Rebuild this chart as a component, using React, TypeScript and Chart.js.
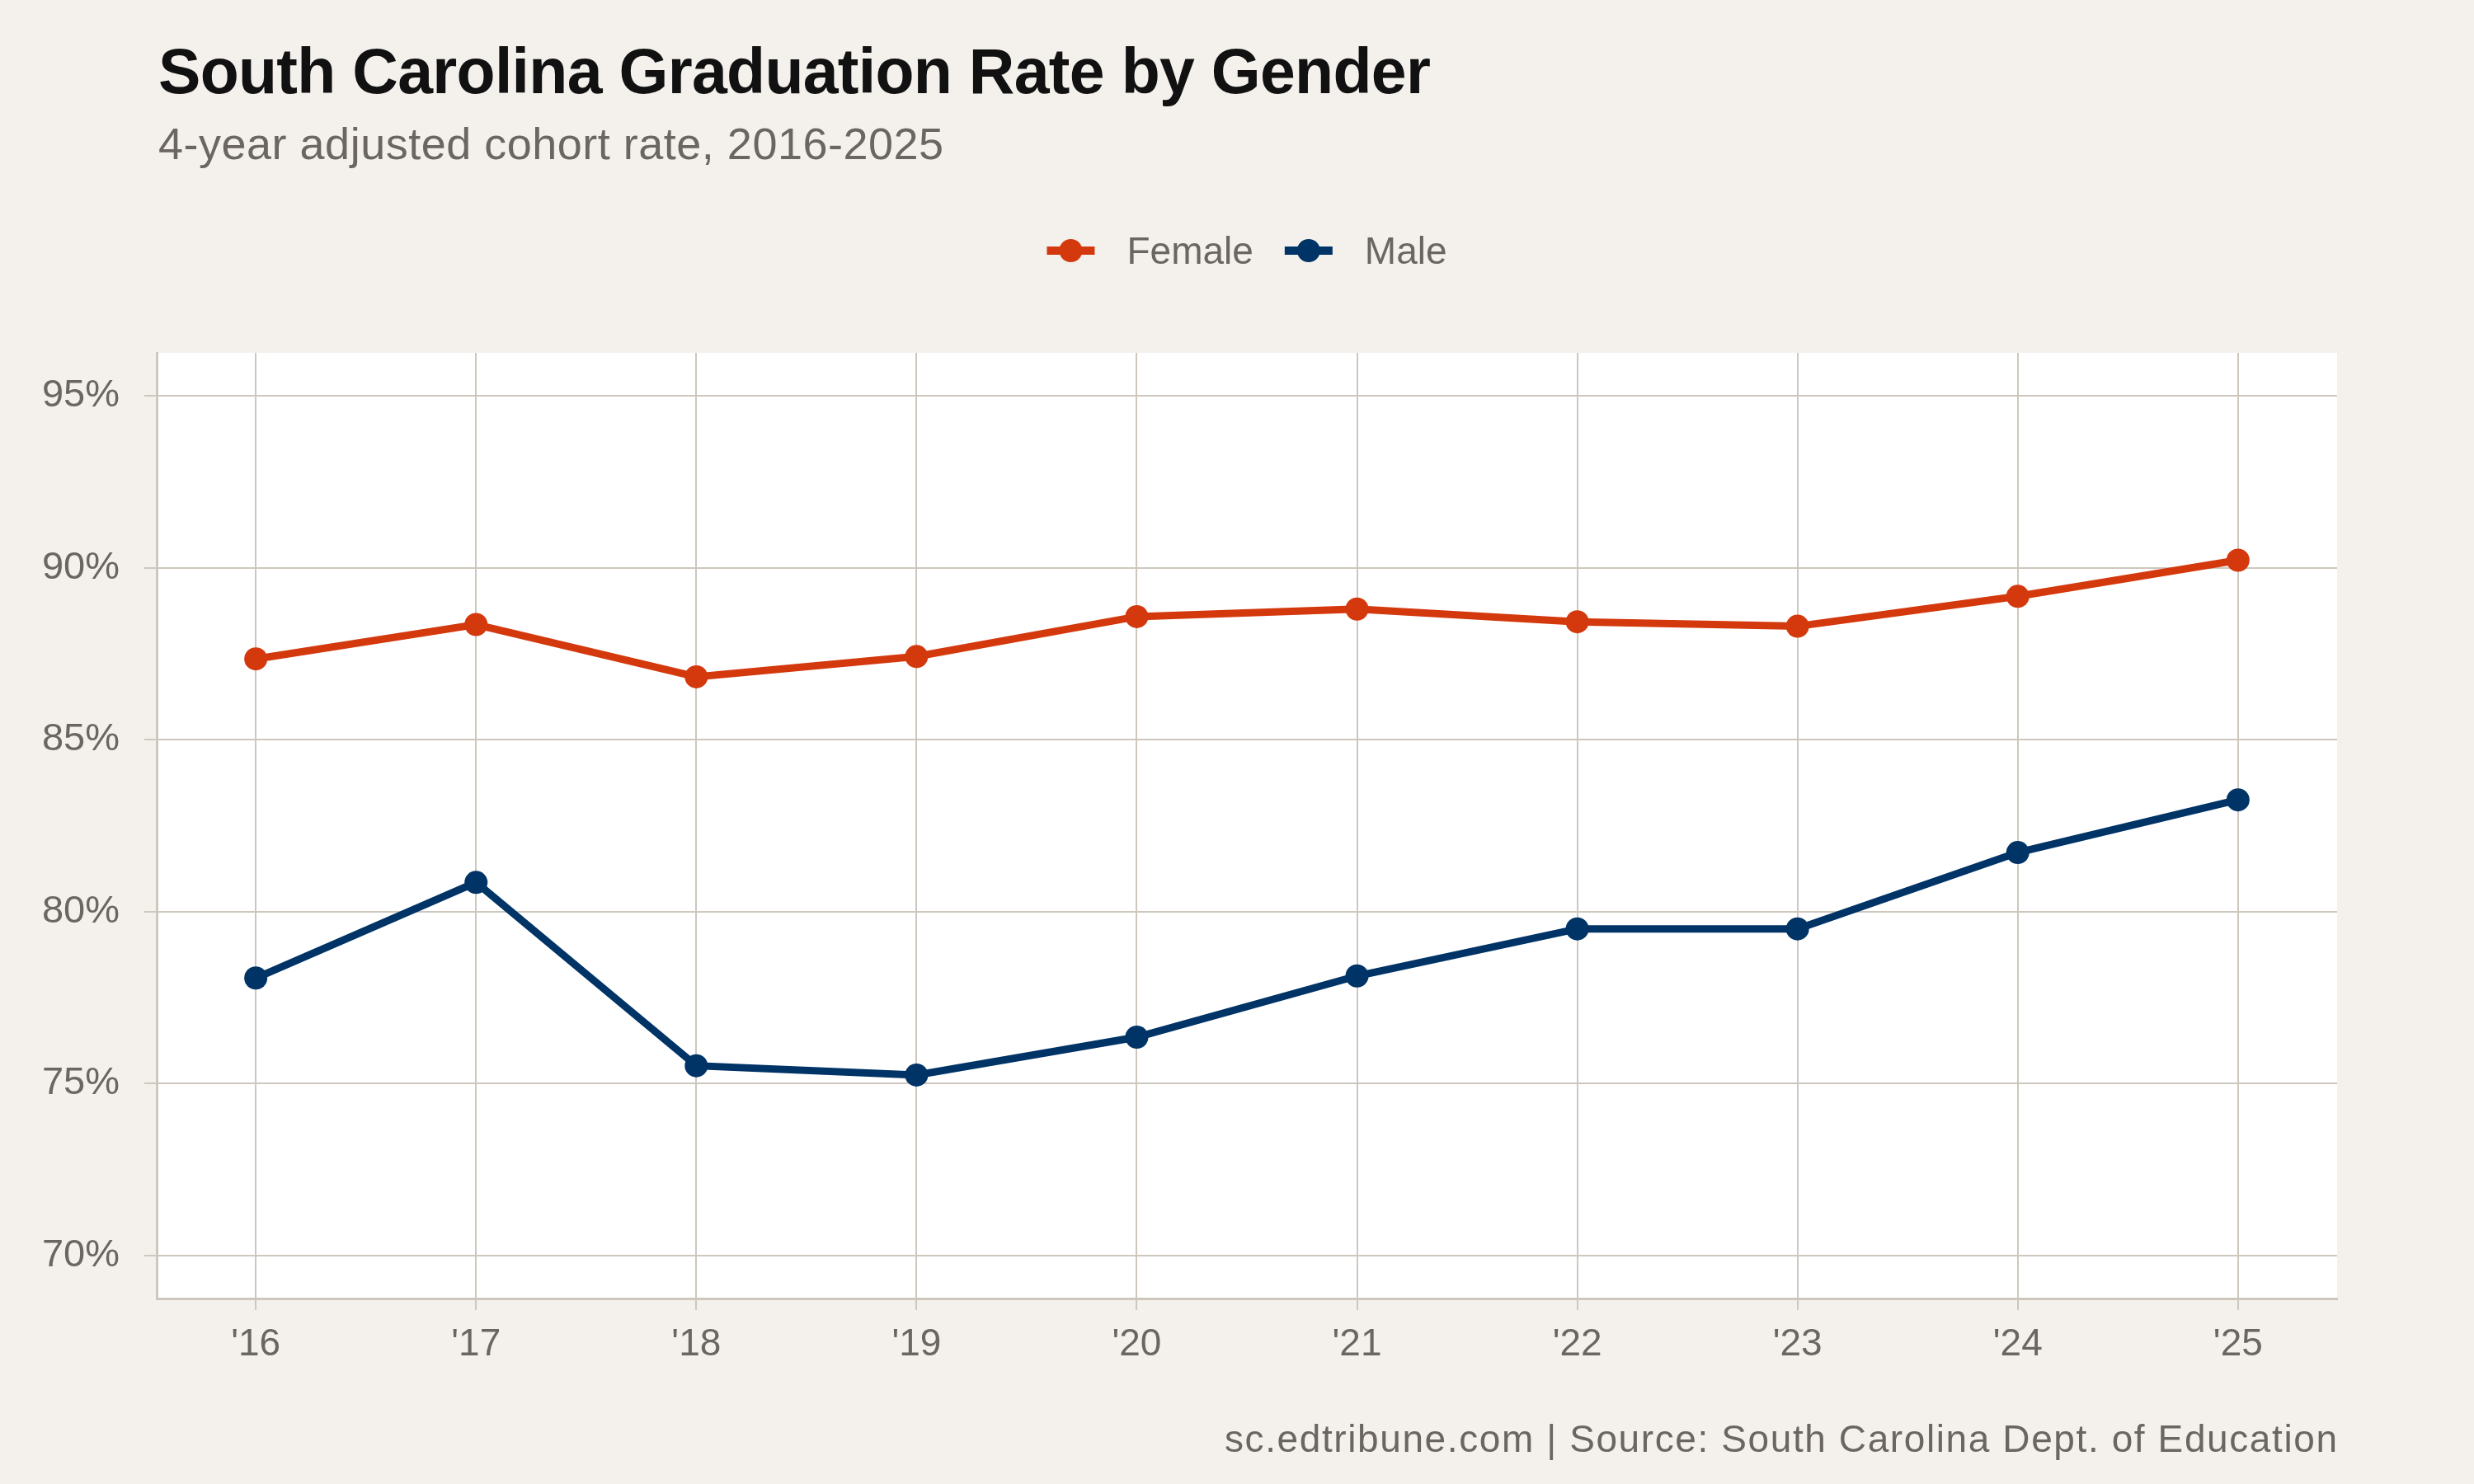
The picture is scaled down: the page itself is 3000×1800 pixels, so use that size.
import React, { useEffect, useRef } from "react";
import { Chart, registerables } from "chart.js";

Chart.register(...registerables);

// Graduation rates (%) by school year
const YEARS = [2016, 2017, 2018, 2019, 2020, 2021, 2022, 2023, 2024, 2025];
const FEMALE = [87.35, 88.35, 86.83, 87.42, 88.58, 88.8, 88.43, 88.3, 89.17, 90.22];
const MALE = [78.07, 80.85, 75.52, 75.25, 76.35, 78.13, 79.5, 79.5, 81.72, 83.25];
const Y_TICKS = [70, 75, 80, 85, 90, 95];
const SERIES_NAMES = ["Female", "Male"];
const SERIES_COLORS = ["#D4390E", "#003366"];

const TITLE = "South Carolina Graduation Rate by Gender";
const SUBTITLE = "4-year adjusted cohort rate, 2016-2025";
const CAPTION = "sc.edtribune.com | Source: South Carolina Dept. of Education";

const FONT = "'Liberation Sans', Arial, Helvetica, sans-serif";
const BG = "#F4F1EC";
const GRID = "#CDC7BE";
const MUTED = "#6B6661";

const W = 3000;
const H = 1800;

const decorPlugin = {
  id: "decor",
  beforeDraw(chart: any) {
    const { ctx, chartArea } = chart;
    ctx.save();
    ctx.fillStyle = BG;
    ctx.fillRect(0, 0, chart.width, chart.height);
    ctx.fillStyle = "#FFFFFF";
    ctx.fillRect(chartArea.left, chartArea.top, chartArea.right - chartArea.left, chartArea.bottom - chartArea.top);
    ctx.restore();
  },
  afterDraw(chart: any) {
    const { ctx, chartArea } = chart;
    ctx.save();
    ctx.textBaseline = "alphabetic";

    // Title and subtitle
    ctx.textAlign = "left";
    ctx.fillStyle = "#111111";
    ctx.font = `bold 77px ${FONT}`;
    ctx.letterSpacing = "-0.7px";
    ctx.fillText(TITLE, 192, 113);
    ctx.fillStyle = MUTED;
    ctx.font = `54px ${FONT}`;
    ctx.letterSpacing = "0.5px";
    ctx.fillText(SUBTITLE, 192, 193);

    // Caption
    ctx.textAlign = "right";
    ctx.font = `46px ${FONT}`;
    ctx.letterSpacing = "1.6px";
    ctx.fillText(CAPTION, chartArea.right + 1.6, 1761);
    ctx.letterSpacing = "0px";

    // Legend: line + dot swatch followed by the series name
    ctx.font = `46px ${FONT}`;
    const swatch = 58;
    const gapText = 39;
    const gapItem = 38;
    const items = chart.data.datasets.map((d: any) => ({
      label: d.label,
      color: d.borderColor,
      w: ctx.measureText(d.label).width,
    }));
    const total = items.reduce((s: number, it: any) => s + swatch + gapText + it.w, 0) + gapItem * (items.length - 1);
    let x = (chartArea.left + chartArea.right) / 2 - total / 2;
    const cy = 304;
    ctx.textAlign = "left";
    items.forEach((it: any) => {
      ctx.strokeStyle = it.color;
      ctx.lineWidth = 10;
      ctx.beginPath();
      ctx.moveTo(x, cy);
      ctx.lineTo(x + swatch, cy);
      ctx.stroke();
      ctx.fillStyle = it.color;
      ctx.beginPath();
      ctx.arc(x + swatch / 2, cy, 14, 0, Math.PI * 2);
      ctx.fill();
      ctx.fillStyle = MUTED;
      ctx.fillText(it.label, x + swatch + gapText, cy + 16);
      x += swatch + gapText + it.w + gapItem;
    });
    ctx.restore();
  },
};

export default function App() {
  const canvasRef = useRef<HTMLCanvasElement | null>(null);

  useEffect(() => {
    const canvas = canvasRef.current;
    if (!canvas) return;
    const seriesValues = [FEMALE, MALE];
    const chart = new Chart(canvas, {
      type: "line",
      data: {
        datasets: SERIES_NAMES.map((name, i) => ({
          label: name,
          data: YEARS.map((yr, j) => ({ x: yr, y: seriesValues[i][j] })),
          borderColor: SERIES_COLORS[i],
          backgroundColor: SERIES_COLORS[i],
          borderWidth: 9,
          pointRadius: 14,
          pointHoverRadius: 14,
          pointBorderWidth: 0,
          pointBackgroundColor: SERIES_COLORS[i],
          tension: 0,
          fill: false,
        })),
      },
      options: {
        responsive: false,
        animation: false,
        devicePixelRatio: 1,
        layout: { padding: { top: 428, right: 166, bottom: 125, left: 0 } },
        plugins: {
          legend: { display: false },
          title: { display: false },
          tooltip: { enabled: false },
        },
        scales: {
          x: {
            type: "linear",
            min: 2015.55,
            max: 2025.45,
            afterBuildTicks: (s: any) => {
              s.ticks = YEARS.map((v) => ({ value: v }));
            },
            afterFit: (s: any) => {
              s.height = 100;
            },
            ticks: {
              callback: (v: any) => "'" + String(v).slice(2),
              font: { size: 46, family: FONT },
              color: MUTED,
              padding: 15,
              autoSkip: false,
              maxRotation: 0,
            },
            grid: { color: GRID, lineWidth: 2, tickLength: 14, drawTicks: true },
            border: { display: true, color: GRID, width: 3 },
          },
          y: {
            type: "linear",
            min: 68.75,
            max: 96.25,
            afterBuildTicks: (s: any) => {
              s.ticks = Y_TICKS.map((v) => ({ value: v }));
            },
            afterFit: (s: any) => {
              s.width = 190;
            },
            ticks: {
              callback: (v: any) => v + "%",
              font: { size: 47, family: FONT },
              color: MUTED,
              padding: 30,
            },
            grid: { color: GRID, lineWidth: 2, tickLength: 15, drawTicks: true },
            border: { display: true, color: GRID, width: 3 },
          },
        },
      },
      plugins: [decorPlugin],
    });
    return () => chart.destroy();
  }, []);

  return (
    <div style={{ position: "fixed", left: 0, top: 0, width: W, height: H, background: BG }}>
      <canvas ref={canvasRef} width={W} height={H} style={{ display: "block", width: W, height: H }} />
    </div>
  );
}
